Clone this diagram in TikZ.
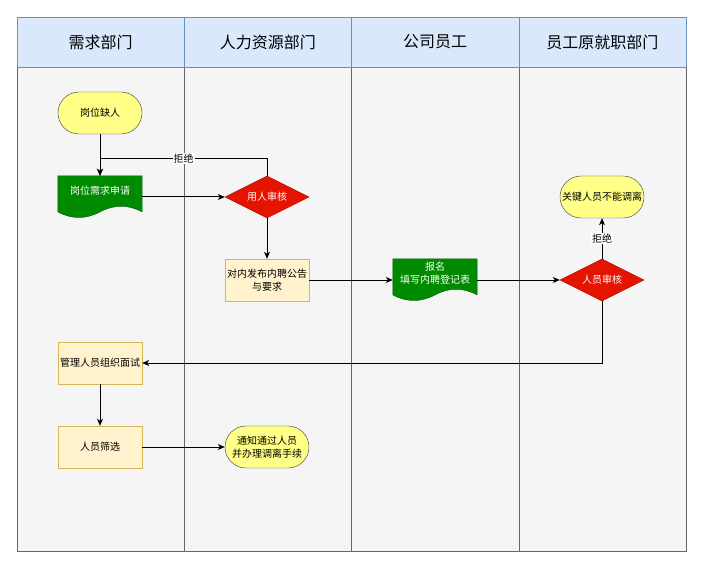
\documentclass[tikz,border=0pt]{standalone}
\usepackage{fontspec}
\newfontfamily\cjk{Noto Sans CJK SC}
\usetikzlibrary{shapes.geometric,arrows.meta,backgrounds}

\definecolor{headfill}{HTML}{DAE8FC}
\definecolor{headline}{HTML}{6C8EBF}
\definecolor{lanefill}{HTML}{F5F5F5}
\definecolor{laneline}{HTML}{666666}
\definecolor{termfill}{HTML}{FFFF88}
\definecolor{termline}{HTML}{36393D}
\definecolor{docfill}{HTML}{008A00}
\definecolor{docline}{HTML}{005700}
\definecolor{chkfill}{HTML}{E51400}
\definecolor{chkline}{HTML}{B20000}
\definecolor{boxfill}{HTML}{FFF2CC}
\definecolor{boxline}{HTML}{D6B656}

% wavy document outline round a named node
\newcommand{\docshape}[1]{%
  \filldraw[fill=docfill, draw=docline] (#1.north west) -- (#1.north east)
    -- ([yshift=6.3pt]#1.south east)
    .. controls ([xshift=-14pt,yshift=13.8pt]#1.south east) and ([xshift=14pt,yshift=13.8pt]#1.south) .. ([yshift=6.3pt]#1.south)
    .. controls ([xshift=-14pt,yshift=-1.2pt]#1.south) and ([xshift=14pt,yshift=-1.2pt]#1.south west) .. ([yshift=6.3pt]#1.south west)
    -- cycle;}

\tikzset{
  lanehead/.style={draw=headline, fill=headfill, minimum width=167.25pt, minimum height=50pt, inner sep=0pt, font=\cjk\fontsize{16}{19}\selectfont},
  lanebody/.style={draw=laneline, fill=lanefill},
  term/.style={draw=termline, fill=termfill, rounded corners=21pt, minimum width=84pt, minimum height=42pt, inner sep=0pt, align=center},
  task/.style={draw=boxline, fill=boxfill, minimum width=84pt, minimum height=42pt, inner sep=0pt, align=center},
  docbox/.style={minimum width=84pt, minimum height=42pt, inner sep=0pt, align=center, text=white, text depth=14pt},
  check/.style={diamond, aspect=2, draw=chkline, fill=chkfill, text=white, minimum width=84pt, minimum height=42pt, inner sep=0pt},
  flow/.style={-{Stealth[length=7pt,width=6pt,inset=2pt]}, line width=1pt},
  tag/.style={fill=white, inner sep=1pt}
}

\begin{document}
\begin{tikzpicture}[x=1pt, y=-1pt, font=\cjk\fontsize{10}{13}\selectfont]
  \useasboundingbox (0,0) rectangle (703,569);

  % lanes
  \begin{scope}[on background layer]
    \fill[white] (0,0) rectangle (703,569);
    \foreach \name [count=\i from 0] in {需求部门,人力资源部门,公司员工,员工原就职部门} {
      \draw[lanebody] ({17+167.25*\i},67) rectangle ++(167.25,484);
      \node[lanehead, at={({100.6+167.25*\i},42)}] (head\i) {\name};
    }
  \end{scope}

  \node[term, at={(100,113)}] (vacant) {岗位缺人};
  \node[docbox, at={(100,197)}] (request) {岗位需求申请};
  \node[check, at={(267,197)}] (review) {用人审核};
  \node[task, at={(267,280)}] (notice) {对内发布内聘公告\\与要求};
  \node[docbox, at={(435,280)}] (signup) {报名\\填写内聘登记表};
  \node[check, at={(602,280)}] (release) {人员审核};
  \node[term, at={(602,197)}] (keep) {关键人员不能调离};
  \node[task, at={(100,363)}] (interview) {管理人员组织面试};
  \node[task, at={(100,447)}] (screen) {人员筛选};
  \node[term, at={(267,447)}] (inform) {通知通过人员\\并办理调离手续};

  \begin{scope}[on background layer]
    \docshape{request}
    \docshape{signup}
  \end{scope}

  \draw[flow] (vacant) -- (request);
  \draw[flow] (review.north) -- ++(0,-17) -| (request.north) node[tag, pos=0.25] {拒绝};
  \draw[flow] (request) -- (review);
  \draw[flow] (review) -- (notice);
  \draw[flow] (notice) -- (signup);
  \draw[flow] (signup) -- (release);
  \draw[flow] (release) -- (keep) node[tag, midway] {拒绝};
  \draw[flow] (release.south) |- (interview);
  \draw[flow] (interview) -- (screen);
  \draw[flow] (screen) -- (inform);
\end{tikzpicture}
\end{document}
